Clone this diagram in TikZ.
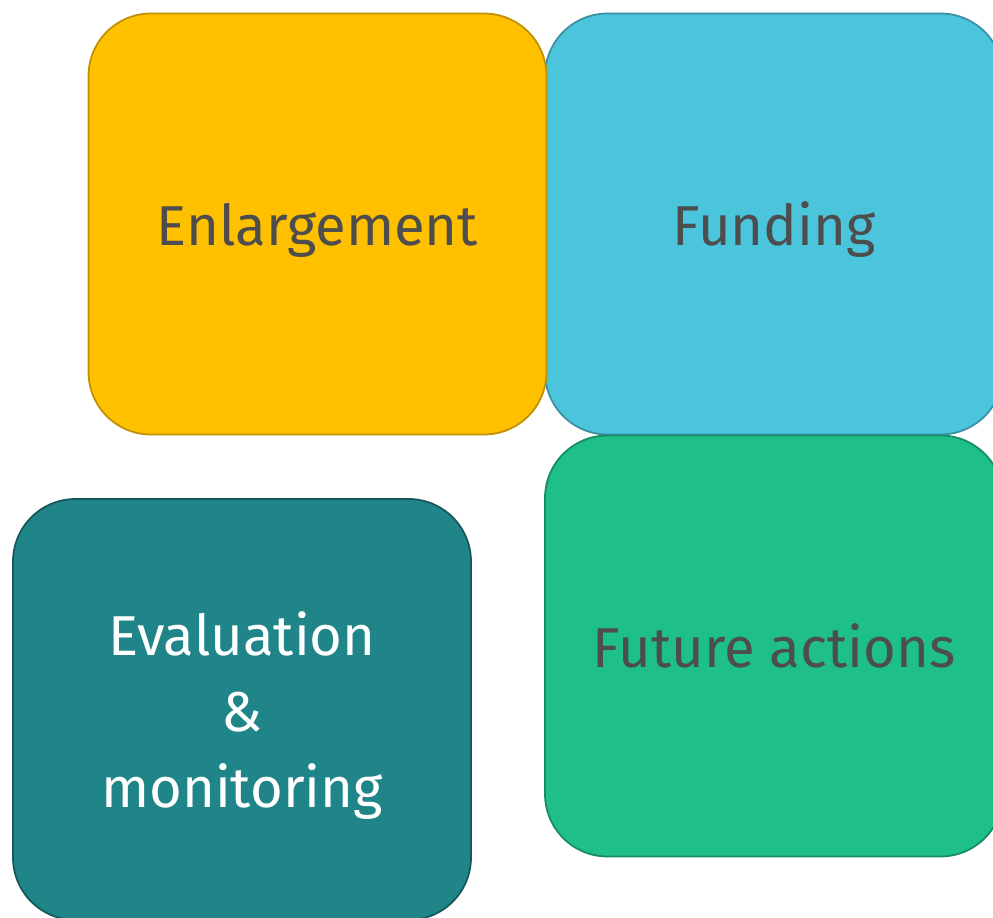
\documentclass[tikz,border=0pt]{standalone}
\usepackage{fontspec}
\setmainfont{Fira Sans}
\definecolor{enlargeFill}{HTML}{FFC000}
\definecolor{enlargeLine}{HTML}{BF9000}
\definecolor{fundFill}{HTML}{4BC5DC}
\definecolor{fundLine}{HTML}{3A8FA3}
\definecolor{futureFill}{HTML}{1FBF88}
\definecolor{futureLine}{HTML}{178C64}
\definecolor{evalFill}{HTML}{1F8589}
\definecolor{evalLine}{HTML}{16575B}
\definecolor{textGray}{HTML}{4D4D4D}
\tikzset{
  tile/.style={draw, line width=1pt, rounded corners=1.25cm, minimum width=9.16cm,
    minimum height=8.42cm, inner sep=0pt, align=center, text=textGray, text depth=0pt,
    font=\fontsize{32}{43}\selectfont}
}
\begin{document}
\begin{tikzpicture}
  \useasboundingbox (0,0) rectangle (19.86,-18.36);
  \clip (0,0) rectangle (19.86,-18.36);
  % top row
  \node[tile, fill=fundFill, draw=fundLine] (funding) at (15.48,-4.48) {Funding};
  \node[tile, fill=enlargeFill, draw=enlargeLine] (enlarge) at (6.35,-4.48) {Enlargement};
  % right column, below funding
  \node[tile, fill=futureFill, draw=futureLine] (future) at (15.48,-12.92) {Future actions};
  % bottom left
  \node[tile, fill=evalFill, draw=evalLine, text=white] (evaluation) at (4.84,-14.19)
    {Evaluation\\\&\\monitoring};
\end{tikzpicture}
\end{document}
